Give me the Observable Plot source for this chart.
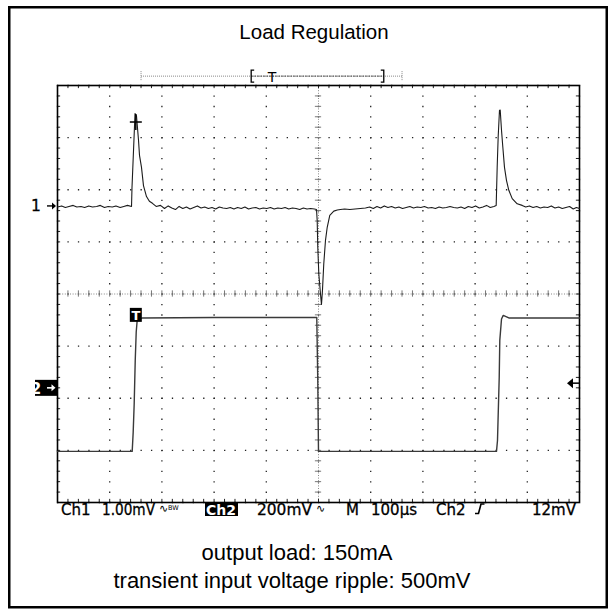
<!DOCTYPE html>
<html>
<head>
<meta charset="utf-8">
<script src="https://cdn.jsdelivr.net/npm/d3@7"></script>
<script src="https://cdn.jsdelivr.net/npm/@observablehq/plot@0.6"></script>
<style>
  html, body { margin: 0; padding: 0; background: #fff; }
  #chart { width: 613px; height: 611px; }
</style>
</head>
<body>
<div id="chart"></div>
<script>
// ---- data (time in µs, 100 µs/div; amplitude in screen divisions) ----
const titleText = "Load Regulation";
const captionLines = ["output load: 150mA", "transient input voltage ripple: 500mV"];
const statusLabels = ["Ch1", "1.00mV", "Ch2", "200mV", "M", "100µs", "Ch2", "12mV"];

const ch1 = [
  [0,1.67],[8,1.69],[15,1.66],[22,1.68],[30,1.70],[37,1.67],[45,1.68],[52,1.66],[60,1.69],[67,1.67],
  [75,1.68],[82,1.70],[90,1.66],[97,1.68],[105,1.67],[112,1.69],[120,1.66],[127,1.68],[134,1.70],[141.8,1.68],
  [142.7,2.04],[148.5,3.46],[151.3,3.42],[155.2,2.95],[157.1,2.66],[160.9,2.43],[164.7,2.08],[170.5,1.87],
  [176,1.78],[181.9,1.74],[189,1.68],[197.3,1.70],
  [205,1.64],[212,1.69],[219,1.65],[226,1.62],[233,1.68],[240,1.64],[247,1.67],[254,1.63],[261,1.66],[268,1.69],
  [275,1.65],[282,1.67],[289,1.64],[296,1.66],[303,1.63],[310,1.67],[317,1.65],[324,1.64],[331,1.66],[338,1.63],
  [345,1.66],[352,1.64],[359,1.67],[366,1.63],[373,1.65],[380,1.66],[387,1.63],[394,1.65],[401,1.64],[408,1.66],
  [415,1.63],[422,1.65],[429,1.64],[436,1.66],[443,1.63],[450,1.65],[457,1.64],[464,1.62],[471,1.65],[478,1.63],
  [485,1.64],[492,1.63],[496.2,1.62],
  [497.5,1.41],[498.6,0.90],[500.6,0.39],[503.8,0.00],[505.7,-0.20],[507.6,0.07],[510.1,0.58],[513.4,1.03],
  [516.7,1.28],[521.6,1.51],[529.3,1.59],[536,1.61],[542.1,1.62],
  [550,1.63],[560,1.62],[570,1.63],[580,1.64],[590,1.65],[598,1.67],[605,1.64],[612,1.68],[619,1.65],[626,1.69],
  [633,1.66],[640,1.68],[647,1.65],[654,1.67],[661,1.64],[668,1.66],[675,1.68],[682,1.65],[689,1.67],[696,1.66],
  [703,1.68],[710,1.65],[717,1.66],[724,1.64],[731,1.67],[738,1.65],[745,1.66],[752,1.68],[759,1.66],[766,1.65],
  [773,1.67],[780,1.64],[787,1.68],[794,1.66],[801,1.69],[808,1.65],[815,1.67],[822,1.70],[829,1.66],[836,1.68],
  [840.4,1.70],
  [842.3,2.43],[844.2,3.01],[846.7,3.52],[848.1,3.53],[850.6,3.14],[853.1,2.82],[856.3,2.43],[860.1,2.18],
  [864.6,1.99],[871.1,1.83],[880.6,1.73],[890.2,1.70],
  [897,1.67],[904,1.69],[911,1.66],[918,1.68],[925,1.65],[932,1.67],[939,1.66],[946,1.69],[953,1.65],[960,1.67],
  [967,1.64],[974,1.66],[981,1.68],[988,1.63],[994,1.66],[1000,1.64]
];

const ch2 = [
  [0,-3.02],[143.1,-3.02],[145.0,-2.65],[146.9,-2.11],[148.9,-1.28],[150.8,-0.73],[152.7,-0.50],[162.3,-0.46],
  [300,-0.45],[496.7,-0.45],[498.6,-1.65],[500.0,-3.02],[841.0,-3.02],[842.9,-2.81],[844.2,-2.33],[846.2,-1.60],
  [847.3,-0.89],[850.6,-0.48],[853.9,-0.41],[858.2,-0.43],[864.6,-0.46],[1000,-0.46]
];

const ch1Ground = 1.68;      // "1→" marker
const ch2Ground = -1.81;     // "2→" marker
const triggerLevel = -1.72;  // right-hand arrow
const triggerPoint = [151, -0.41]; // "T" marker on Ch2
const cursorPoint = [151, 3.29];   // "+" on first Ch1 peak
const recordBar = {start: 161, end: 661, left: 372, right: 626, trig: 412, level: 4.17};

const majorT = d3.range(0, 1001, 100);
const majorV = d3.range(-4, 4.01, 1);
const minorT = d3.range(0, 1000.01, 20);
const minorV = d3.range(-4, 4.01, 0.2);

// ---- plot ----
const W = 613, H = 611;
const mL = 57, mR = 34, mT = 85, mB = 109;
const pxPerMinorX = (W - mL - mR) / 50;
const pxPerMinorY = (H - mT - mB) / 40;

const plot = Plot.plot({
  width: W, height: H,
  marginLeft: mL, marginRight: mR, marginTop: mT, marginBottom: mB,
  x: {domain: [0, 1000], axis: null},
  y: {domain: [-4, 4], axis: null},
  style: {background: "#fff", overflow: "visible", fontFamily: "'Liberation Sans', Arial, sans-serif"},
  marks: [
    Plot.ruleX(majorT, {x: d => d, stroke: "#222", strokeWidth: 1.3, strokeDasharray: `1.3 ${pxPerMinorY - 1.3}`}),
    Plot.ruleY(majorV, {y: d => d, stroke: "#222", strokeWidth: 1.3, strokeDasharray: `1.3 ${pxPerMinorX - 1.3}`}),
    // centre cross-hair
    Plot.ruleX([500], {x: d => d, stroke: "#888", strokeDasharray: "1 1.6"}),
    Plot.ruleY([0], {y: d => d, stroke: "#888", strokeDasharray: "1 1.6"}),
    Plot.ruleX(minorT, {x: d => d, y1: () => -0.06, y2: () => 0.06, stroke: "#777"}),
    Plot.ruleY(minorV, {y: d => d, x1: () => 494, x2: () => 506, stroke: "#777"}),
    // frame ticks
    Plot.ruleX(minorT, {x: d => d, y1: () => -4, y2: () => -3.94, stroke: "#222"}),
    Plot.ruleX(minorT, {x: d => d, y1: () => 3.94, y2: () => 4, stroke: "#222"}),
    Plot.ruleY(minorV, {y: d => d, x1: () => 0, x2: () => 6, stroke: "#222"}),
    Plot.ruleY(minorV, {y: d => d, x1: () => 994, x2: () => 1000, stroke: "#222"}),
    Plot.frame({stroke: "#000", strokeWidth: 1.6}),
    // traces
    Plot.line(ch2, {x: d => d[0], y: d => d[1], stroke: "#3a3a3a", strokeWidth: 1.4}),
    Plot.line(ch1, {x: d => d[0], y: d => d[1], stroke: "#1c1c1c", strokeWidth: 1.1})
  ]
});
document.getElementById("chart").appendChild(plot);

// ---- annotations positioned through the plot's scales ----
const sx = plot.scale("x"), sy = plot.scale("y");
const X = v => sx.apply(v), Y = v => sy.apply(v);
const svg = d3.select(plot);
const font = "'Liberation Sans', Arial, sans-serif";
const scopeFont = "'DejaVu Sans', Verdana, sans-serif";

// outer border
svg.append("rect").attr("x", 9.25).attr("y", 7.25).attr("width", 597.5).attr("height", 600)
  .attr("fill", "none").attr("stroke", "#000").attr("stroke-width", 2.5);

// title
svg.append("text").attr("x", 314).attr("y", 39).attr("text-anchor", "middle")
  .attr("font-family", font).attr("font-size", 20.5).attr("fill", "#000").text(titleText);

// record bar
const by = Y(recordBar.level);
svg.append("line").attr("x1", X(recordBar.start)).attr("x2", X(recordBar.end)).attr("y1", by).attr("y2", by)
  .attr("stroke", "#888").attr("stroke-dasharray", "1 1");
svg.append("line").attr("x1", X(recordBar.left)).attr("x2", X(recordBar.right)).attr("y1", by).attr("y2", by)
  .attr("stroke", "#555").attr("stroke-dasharray", "2 1");
[recordBar.start, recordBar.end].forEach(t => svg.append("line").attr("x1", X(t)).attr("x2", X(t))
  .attr("y1", by - 5).attr("y2", by + 4).attr("stroke", "#888").attr("stroke-dasharray", "1 1"));
const bracket = (t, dir) => svg.append("path")
  .attr("d", `M${X(t) + 3 * dir},${by - 6} L${X(t)},${by - 6} L${X(t)},${by + 6} L${X(t) + 3 * dir},${by + 6}`)
  .attr("fill", "none").attr("stroke", "#000").attr("stroke-width", 1.3);
bracket(recordBar.left, 1);
bracket(recordBar.right, -1);
svg.append("text").attr("x", X(recordBar.trig)).attr("y", by + 6).attr("text-anchor", "middle")
  .attr("font-family", scopeFont).attr("font-size", 14).attr("fill", "#000").text("T");

// arrow helper (→ or ←)
const arrow = (x0, x1, y, color, w) => {
  const dir = Math.sign(x1 - x0);
  svg.append("line").attr("x1", x0).attr("x2", x1 - 3 * dir).attr("y1", y).attr("y2", y).attr("stroke", color).attr("stroke-width", w);
  svg.append("path").attr("d", `M${x1},${y} L${x1 - 4 * dir},${y - 3.5} L${x1 - 4 * dir},${y + 3.5} Z`).attr("fill", color);
};

// Ch1 ground marker
const g1 = Y(ch1Ground);
svg.append("text").attr("x", 36).attr("y", g1 + 5.5).attr("font-family", scopeFont).attr("font-size", 15.5)
  .attr("fill", "#000").attr("stroke", "#000").attr("stroke-width", 0.3).text("1");
arrow(47, X(0) - 1, g1, "#000", 1.4);

// Ch2 ground marker (inverted)
const g2 = Y(ch2Ground);
svg.append("rect").attr("x", X(0) - 22).attr("y", g2 - 8).attr("width", 22).attr("height", 16).attr("fill", "#000");
svg.append("text").attr("x", X(0) - 21).attr("y", g2 + 6).attr("font-family", scopeFont).attr("font-size", 15.5)
  .attr("font-weight", "bold").attr("fill", "#fff").text("2");
arrow(X(0) - 10, X(0) - 1.5, g2, "#fff", 1.6);

// trigger level arrow
const ty = Y(triggerLevel), tx = X(1000);
svg.append("path").attr("d", `M${tx - 12},${ty} L${tx - 6},${ty - 5} L${tx - 6},${ty + 5} Z`).attr("fill", "#000");
svg.append("line").attr("x1", tx - 6).attr("x2", tx).attr("y1", ty).attr("y2", ty).attr("stroke", "#000").attr("stroke-width", 1.5);

// T marker on Ch2
svg.append("rect").attr("x", X(triggerPoint[0]) - 6).attr("y", Y(triggerPoint[1]) - 7).attr("width", 12).attr("height", 14).attr("fill", "#000");
svg.append("text").attr("x", X(triggerPoint[0])).attr("y", Y(triggerPoint[1]) + 5).attr("text-anchor", "middle")
  .attr("font-family", scopeFont).attr("font-size", 13).attr("font-weight", "bold").attr("fill", "#fff").text("T");

// cursor cross on Ch1 peak
const cx = X(cursorPoint[0]), cy = Y(cursorPoint[1]);
svg.append("line").attr("x1", cx - 6).attr("x2", cx + 6).attr("y1", cy).attr("y2", cy).attr("stroke", "#000").attr("stroke-width", 1.5);
svg.append("line").attr("x1", cx).attr("x2", cx).attr("y1", cy - 8).attr("y2", cy + 8).attr("stroke", "#000").attr("stroke-width", 1.5);

// status line
const sY = 515;
const st = (x, s, opts = {}) => {
  const t = svg.append("text").attr("x", x).attr("y", opts.y || sY).attr("font-family", scopeFont)
    .attr("font-size", opts.size || 15).attr("fill", opts.fill || "#000").attr("text-anchor", opts.anchor || "start")
    .attr("stroke", opts.fill || "#000").attr("stroke-width", opts.sw === undefined ? 0.3 : opts.sw)
    .attr("font-weight", opts.weight || "normal").text(s);
  if (opts.len) t.attr("textLength", opts.len).attr("lengthAdjust", "spacingAndGlyphs");
  return t;
};
st(61, statusLabels[0]);
st(102, statusLabels[1], {len: 53});
st(159, "∿", {size: 11, y: 512, sw: 0});
st(168, "BW", {size: 6.5, y: 510, sw: 0});
svg.append("rect").attr("x", 205).attr("y", 502).attr("width", 33).attr("height", 14).attr("fill", "#000");
st(206, statusLabels[2], {fill: "#fff", weight: "bold", size: 14, sw: 0});
st(257, statusLabels[3], {len: 55});
st(316, "∿", {size: 11, y: 512, sw: 0});
st(346, statusLabels[4]);
st(371, statusLabels[5]);
st(436, statusLabels[6]);
svg.append("path").attr("d", `M475,513.5 L478.5,513.5 L481,504 L484.5,504`).attr("fill", "none").attr("stroke", "#000").attr("stroke-width", 1.6);
st(576, statusLabels[7], {anchor: "end"});

// caption
svg.append("text").attr("x", 297).attr("y", 560).attr("text-anchor", "middle").attr("font-family", font)
  .attr("font-size", 22).attr("fill", "#000").text(captionLines[0]);
svg.append("text").attr("x", 292).attr("y", 588).attr("text-anchor", "middle").attr("font-family", font)
  .attr("font-size", 22).attr("fill", "#000").text(captionLines[1]);
</script>
</body>
</html>
